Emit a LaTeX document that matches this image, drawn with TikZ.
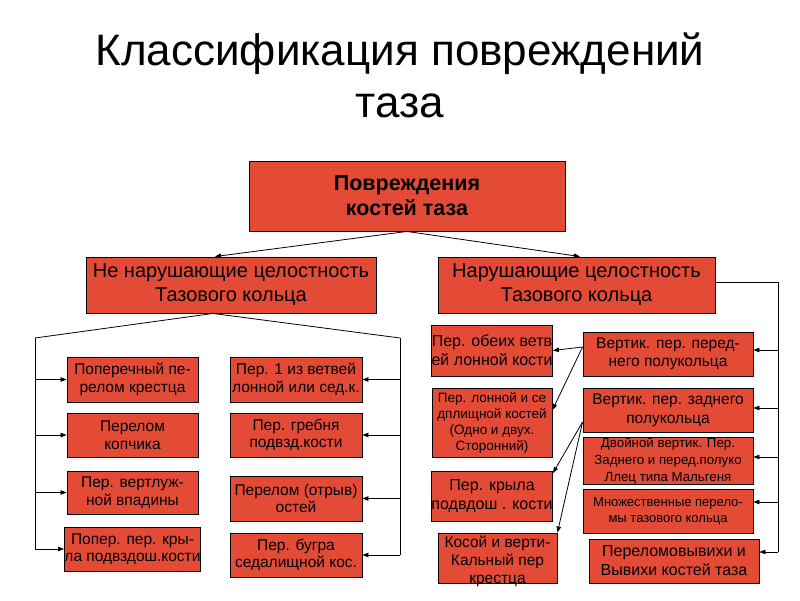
\documentclass[tikz,border=0pt]{standalone}
\usepackage{fontspec}
\setmainfont{Liberation Sans}
\usetikzlibrary{arrows.meta}
\definecolor{boxred}{RGB}{227,75,55}
\begin{document}
\begin{tikzpicture}[x=1pt,y=-1pt,
 box/.style={draw=black, line width=0.9pt, fill=boxred, inner sep=0pt, align=center, font=\fontsize{15.5}{17.5}\selectfont},
 titletext/.style={font=\fontsize{44}{52}\selectfont, inner sep=0pt, anchor=base},
 conn/.style={line width=0.8pt},
 arr/.style={conn, -{Triangle[length=6pt,width=4.5pt]}}]
\useasboundingbox (0,0) rectangle (800,600);
\fill[white] (0,0) rectangle (800,600);
% title
\node[titletext] (title1) at (400,65) {Классификация повреждений};
\node[titletext] (title2) at (400,117) {таза};
% main boxes
\node[box, minimum width=316pt, minimum height=70pt, font=\bfseries\fontsize{21.5}{25}\selectfont] (top) at (407,196) {Повреждения\\костей таза};
\node[box, minimum width=290pt, minimum height=56pt, font=\fontsize{20}{24}\selectfont] (L) at (231,285) {Не нарушающие целостность\\Тазового кольца};
\node[box, minimum width=277pt, minimum height=56pt, font=\fontsize{20}{24}\selectfont] (R) at (576.5,285) {Нарушающие целостность\\Тазового кольца};
% left column
\node[box, minimum width=131pt, minimum height=45pt] (A1) at (132.5,379.5) {Поперечный пе-\\релом крестца};
\node[box, minimum width=131pt, minimum height=44pt] (A2) at (132.5,435) {Перелом\\копчика};
\node[box, minimum width=131pt, minimum height=43pt] (A3) at (132.5,492.5) {Пер. вертлуж-\\ной впадины};
\node[box, minimum width=131pt, minimum height=44pt] (A4) at (132.5,549) {Попер. пер. кры-\\ла подвздош.кости};
% second column
\node[box, minimum width=132pt, minimum height=45pt] (B1) at (296,379.5) {Пер. 1 из ветвей\\лонной или сед.к.};
\node[box, minimum width=132pt, minimum height=44pt] (B2) at (296,435) {Пер. гребня\\подвзд.кости};
\node[box, minimum width=132pt, minimum height=45pt] (B3) at (296,498.5) {Перелом (отрыв)\\остей};
\node[box, minimum width=132pt, minimum height=44pt] (B4) at (296,555) {Пер. бугра\\седалищной кос.};
% middle-right column
\node[box, minimum width=120pt, minimum height=51pt, font=\fontsize{16}{19}\selectfont] (M1) at (492,350.5) {Пер. обеих ветв\\ей лонной кости};
\node[box, minimum width=120pt, minimum height=69pt, font=\fontsize{13.5}{16}\selectfont] (M2) at (492,422.5) {Пер. лонной и се\\дплищной костей\\(Одно и двух.\\Сторонний)};
\node[box, minimum width=120pt, minimum height=50pt, font=\fontsize{16}{19.5}\selectfont] (M3) at (492,496) {Пер. крыла\\подвдош . кости};
\node[box, minimum width=119pt, minimum height=50pt] (M4) at (497.5,558) {};
\node[font=\fontsize{15.5}{18}\selectfont, align=center, inner sep=0pt] (M4t) at (497.5,561) {Косой и верти-\\Кальный пер\\крестца};
% right column
\node[box, minimum width=170pt, minimum height=44pt, font=\fontsize{15.5}{17.5}\selectfont] (R1) at (668,354) {Вертик. пер. перед-\\него полукольца};
\node[box, minimum width=170pt, minimum height=44pt, font=\fontsize{15.5}{19}\selectfont] (R2) at (668,410) {Вертик. пер. заднего\\полукольца};
\node[box, minimum width=170pt, minimum height=44pt, font=\fontsize{13.3}{17}\selectfont] (R3) at (668,461) {Двойной вертик. Пер.\\Заднего и перед.полуко\\Ллец типа Мальгеня};
\node[box, minimum width=170pt, minimum height=44pt, font=\fontsize{13}{16}\selectfont] (R4) at (668,511) {Множественные перело-\\мы тазового кольца};
\node[box, minimum width=170pt, minimum height=44pt, font=\fontsize{16}{19}\selectfont] (R5) at (674,561) {Переломовывихи и\\Вывихи костей таза};
% connectors top
\draw[arr] (top.south) -- ([xshift=-16pt]L.north);
\draw[arr] (top.south) -- ([xshift=3.5pt]R.north);
% left bus
\coordinate (lb) at (35,338);
\coordinate (rb) at (400,338);
\draw[conn] ([xshift=-18pt]L.south) -- (lb);
\draw[conn] ([xshift=-18pt]L.south) -- (rb);
\draw[conn] (lb) -- (lb |- A4.west);
\foreach \n in {A1,A2,A3,A4} \draw[arr] (lb |- \n.west) -- (\n.west);
\draw[conn] (rb) -- (rb |- B4.east);
\foreach \n in {B1,B2,B3,B4} \draw[arr] (rb |- \n.east) -- (\n.east);
% right bus
\coordinate (rc) at (778,282);
\coordinate (r1e) at ([yshift=4pt]R1.east);
\coordinate (r2e) at ([yshift=2pt]R2.east);
\coordinate (r3e) at ([yshift=4pt]R3.east);
\coordinate (r4e) at ([yshift=9pt]R4.east);
\coordinate (r5e) at ([yshift=9pt]R5.east);
\draw[conn] (R.east |- rc) -- (rc) -- (rc |- r5e);
\foreach \n in {r1e,r2e,r3e,r4e,r5e} \draw[arr] (rc |- \n) -- (\n);
% diagonals
\coordinate (r1w) at ([yshift=7pt]R1.west);
\coordinate (r2w) at ([yshift=-12pt]R2.west);
\draw[arr] (r1w) -- (M1.east);
\draw[arr] (r1w) -- ([yshift=12.5pt]M2.east);
\draw[arr] (r2w) -- ([yshift=23pt]M3.east);
\draw[arr] (r2w) -- (M4.north east);
\end{tikzpicture}
\end{document}
